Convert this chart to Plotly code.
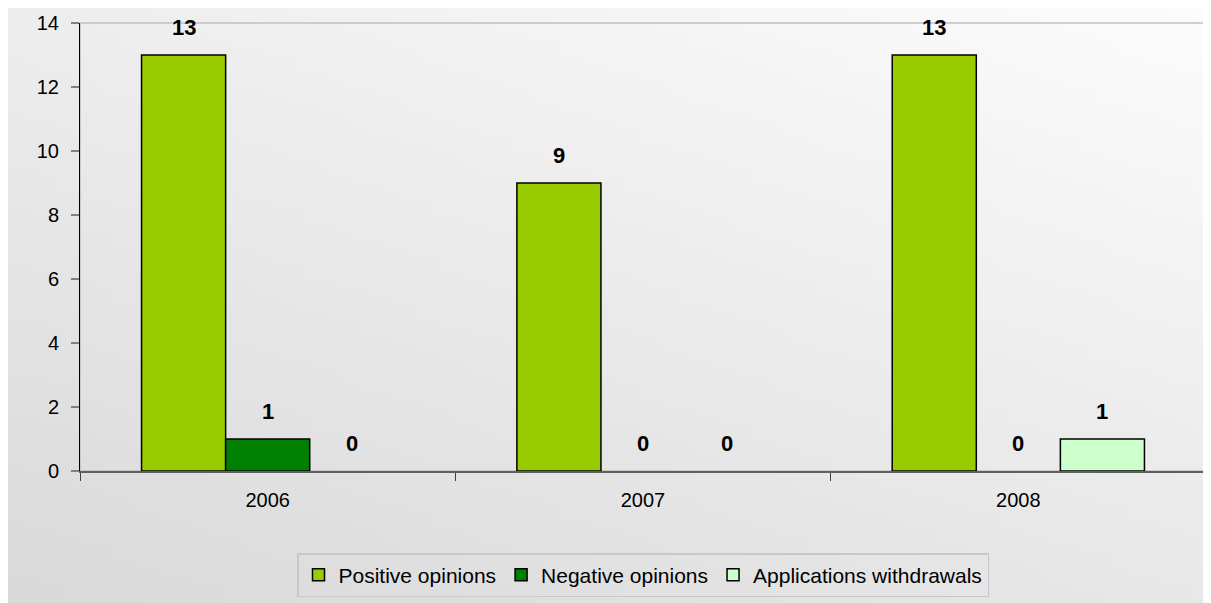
import zlib, struct, base64
import plotly.graph_objects as go

# ---- data ----
years = ["2006", "2007", "2008"]
positive = [13, 9, 13]
negative = [1, 0, 0]
withdrawals = [0, 0, 1]
series_names = ["Positive opinions", "Negative opinions", "Applications withdrawals"]
series_colors = ["#99CC00", "#008000", "#CCFFCC"]
y_ticks = [0, 2, 4, 6, 8, 10, 12, 14]

# page has an 8px body margin, so the figure is drawn 8px smaller
W, H = 1203, 595
ML, MR, MT, MB = 72, 5, 15, 132
BARGAP = 0.328


def gradient_png(w, h):
    rows = []
    for j in range(h):
        row = bytearray()
        for i in range(w):
            t = ((1 - i / (w - 1)) * 0.55 + (j / (h - 1)) * 0.75) / 1.3
            v = int(round(252 - t * (252 - 217)))
            row.append(v)
        rows.append(b"\x00" + bytes(row))
    raw = b"".join(rows)

    def chunk(tag, data):
        return struct.pack(">I", len(data)) + tag + data + struct.pack(">I", zlib.crc32(tag + data) & 0xFFFFFFFF)

    png = b"\x89PNG\r\n\x1a\n" + chunk(b"IHDR", struct.pack(">IIBBBBB", w, h, 8, 0, 0, 0, 0)) \
        + chunk(b"IDAT", zlib.compress(raw)) + chunk(b"IEND", b"")
    return "data:image/png;base64," + base64.b64encode(png).decode()


fig = go.Figure()
all_series = [positive, negative, withdrawals]
for name, vals, col in zip(series_names, all_series, series_colors):
    fig.add_trace(go.Bar(
        x=years, y=[v if v else None for v in vals], name=name,
        marker=dict(color=col, line=dict(color="#000000", width=1.5)),
    ))

# value labels (x given as category index)
plot_w = W - ML - MR
cat_w = plot_w / len(years)
bar_w = cat_w * (1 - BARGAP) / len(all_series)
annotations = []
for k, vals in enumerate(all_series):
    shift = (k - (len(all_series) - 1) / 2) * bar_w
    for idx, v in enumerate(vals):
        annotations.append(dict(
            x=idx, y=v, xref="x", yref="y", text="<b>%d</b>" % v,
            showarrow=False, xshift=shift, yshift=28, yanchor="middle",
            font=dict(family="Liberation Sans, Arial", size=22, color="#000000"),
        ))

plot_h = H - MT - MB
fig.update_layout(
    width=W, height=H,
    margin=dict(l=ML, r=MR, t=MT, b=MB),
    paper_bgcolor="#ebebeb",
    plot_bgcolor="rgba(0,0,0,0)",
    barmode="group", bargap=BARGAP, bargroupgap=0,
    font=dict(family="Liberation Sans, Arial", size=20, color="#000000"),
    showlegend=True,
    legend=dict(
        orientation="h", x=0.5, xanchor="center", y=-(589 - (H - MB)) / plot_h, yanchor="bottom",
        bgcolor="rgba(0,0,0,0)", bordercolor="#c8c8c8", borderwidth=1.5,
        font=dict(size=21), itemclick=False, traceorder="normal",
    ),
    annotations=annotations,
    images=[dict(
        source=gradient_png(121, 60), xref="paper", yref="paper",
        x=-ML / plot_w, y=1 + MT / plot_h, sizex=W / plot_w, sizey=H / plot_h,
        sizing="stretch", xanchor="left", yanchor="top", layer="below",
    )],
    shapes=[dict(type="rect", xref="paper", yref="paper", x0=0, x1=1, y0=0, y1=1,
                 line=dict(color="#c0c0c0", width=1.5), layer="below")],
)
fig.update_xaxes(
    type="category", range=[-0.5, len(years) - 0.5],
    showline=True, linecolor="#606060", linewidth=2,
    ticks="outside", tickson="boundaries", ticklen=8, tickcolor="#404040", tickwidth=1,
    ticklabelstandoff=10, showgrid=False, zeroline=False,
    tickfont=dict(size=20),
)
fig.update_yaxes(
    range=[0, 14], tickvals=y_ticks, ticktext=[str(t) for t in y_ticks],
    showline=True, linecolor="#000000", linewidth=1,
    ticks="outside", ticklen=8, tickcolor="#808080", tickwidth=1.5,
    ticklabelstandoff=8, showgrid=False, zeroline=False,
    tickfont=dict(size=20),
)

fig.write_html("out.html")
